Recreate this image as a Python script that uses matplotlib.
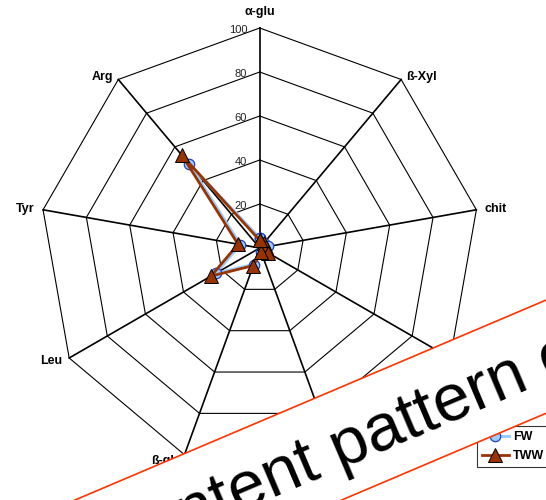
import matplotlib.pyplot as plt
import numpy as np
from matplotlib.patches import Polygon

plt.rcParams['font.family'] = ['Liberation Sans', 'DejaVu Sans']

# enzyme activities (% of max), clockwise from the top spoke
enzymes = ['α-glu', 'ß-Xyl', 'chit', 'ß-gal', 'Phos', 'ß-glu', 'Leu', 'Tyr', 'Arg']
fw = [4.5, 3, 4, 3, 2, 8, 23, 9, 50]
tww = [3.5, 3, 3, 4.5, 2, 8.5, 25.5, 10, 55]
rings = [20, 40, 60, 80, 100]

n = len(enzymes)
theta = np.arange(n) * 2 * np.pi / n


def to_xy(values):
    r = np.asarray(values, dtype=float)
    return r * np.sin(theta), r * np.cos(theta)


def closed(a):
    return np.append(a, a[0])


W, H = 546, 500
fig = plt.figure(figsize=(W / 100, H / 100), dpi=100)
ax = fig.add_axes([0, 0, 1, 1])
ax.set_xlim(-118.05, 130.13)
ax.set_ylim(-114.55, 112.73)
ax.axis('off')

# spider web
for ring in rings:
    gx, gy = to_xy([ring] * n)
    ax.plot(closed(gx), closed(gy), color='black', lw=0.8, zorder=1)
sx, sy = to_xy([rings[-1]] * n)
for x, y in zip(sx, sy):
    ax.plot([0, x], [0, y], color='black', lw=1.2, zorder=1)

# scale labels along the top spoke
for ring in rings:
    ax.annotate(str(ring), (0, ring), xytext=(-9, -1.5), textcoords='offset points',
                ha='right', va='center', fontsize=8, color='#222222')

# enzyme labels
for name, t, x, y in zip(enzymes, theta, sx, sy):
    s, c = np.sin(t), np.cos(t)
    if abs(s) < 0.1:
        ha, va, off = 'center', 'bottom', (0, 7)
    else:
        ha = 'left' if s > 0 else 'right'
        va = 'center'
        off = (6 * s, 2 * c if c > 0 else 5 * c)
    ax.annotate(name, (x, y), xytext=off, textcoords='offset points',
                ha=ha, va=va, fontsize=9, fontweight='bold')

# series
x1, y1 = to_xy(fw)
ax.plot(closed(x1), closed(y1), color='#99CCFF', lw=2.2, marker='o', ms=7.5,
        mfc='#99CCFF', mec='#1F3FCC', mew=0.9, label='FW', zorder=3)
x2, y2 = to_xy(tww)
ax.plot(closed(x2), closed(y2), color='#993300', lw=2.0, marker='^', ms=10,
        mfc='#993300', mec='black', mew=0.7, label='TWW', zorder=4)

leg = ax.legend(loc='lower left', bbox_to_anchor=(0.873, 0.066),
                prop={'weight': 'bold', 'size': 9}, frameon=True, fancybox=False,
                handlelength=2.2, handletextpad=0.3, labelspacing=0.55,
                borderpad=0.4, borderaxespad=0)
leg.get_frame().set_edgecolor('black')
leg.get_frame().set_linewidth(0.8)

# diagonal banner across the lower right (pixel geometry, y measured from the top)
slope = np.tan(np.radians(23))
x0, x1b = -60, W + 60
top_edge = [300.1 + (W - x) * slope for x in (x0, x1b)]
bottom_edge = [413.3 + (W - x) * slope for x in (x0, x1b)]
corners = [(x0, top_edge[0]), (x1b, top_edge[1]), (x1b, bottom_edge[1]), (x0, bottom_edge[0])]
band = Polygon([(x / W, 1 - y / H) for x, y in corners], closed=True,
               transform=fig.transFigure, fc='white', ec='#FF3300', lw=1.2, zorder=9)
fig.add_artist(band)
fig.text(0.223, -0.124, 'content pattern of', rotation=23, rotation_mode='anchor',
         ha='left', va='baseline', fontsize=48, color='black', zorder=10)

fig.savefig('out.png', dpi=100)
